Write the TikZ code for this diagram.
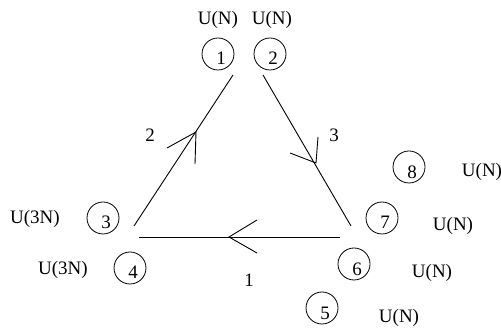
\documentclass[tikz,border=0pt]{standalone}
\usepackage{fontspec}
\setmainfont{Liberation Serif}
\begin{document}
\begin{tikzpicture}[x=1pt,y=-1pt,
  ring/.style={draw,circle,minimum size=32pt,inner sep=0pt,line width=0.8pt},
  num/.style={font=\fontsize{19}{19}\selectfont,inner sep=0pt},
  lab/.style={font=\fontsize{19}{19}\selectfont,inner sep=0pt},
  edge/.style={line width=0.9pt},
  chev/.style={line width=0.9pt}]
\useasboundingbox (0,0) rectangle (501,328);
% circles
\node[ring] (c1) at (218,54) {};
\node[ring] (c2) at (270,54) {};
\node[ring] (c3) at (103,218) {};
\node[ring] (c4) at (130,268) {};
\node[ring] (c5) at (322,308) {};
\node[ring] (c6) at (354,264) {};
\node[ring] (c7) at (382,218) {};
\node[ring] (c8) at (409,167) {};
% digits
\node[num] (d1) at (221,58) {1};
\node[num] (d2) at (273,58) {2};
\node[num] (d3) at (106,222) {3};
\node[num] (d4) at (133,272) {4};
\node[num] (d5) at (325,313) {5};
\node[num] (d6) at (357,269) {6};
\node[num] (d7) at (385,222) {7};
\node[num] (d8) at (412,172) {8};
% group labels
\node[lab] (l1) at (218,20) {U(N)};
\node[lab] (l2) at (272,20) {U(N)};
\node[lab] (l3) at (35,219) {U(3N)};
\node[lab] (l4) at (63,270) {U(3N)};
\node[lab] (l5) at (399,318) {U(N)};
\node[lab] (l6) at (432,273) {U(N)};
\node[lab] (l7) at (453,226) {U(N)};
\node[lab] (l8) at (482,172) {U(N)};
% edge labels
\node[lab] (e2) at (150,135) {2};
\node[lab] (e3) at (334,135) {3};
\node[lab] (e1) at (249,280) {1};
% triangle edges
\coordinate (lb) at (134,226);
\coordinate (lt) at (233,75);
\coordinate (rt) at (263,75);
\coordinate (rb) at (351,226);
\coordinate (bl) at (139,237);
\coordinate (br) at (340,237);
\draw[edge] (lb) -- (lt);
\draw[edge] (rt) -- (rb);
\draw[edge] (br) -- (bl);
% open arrowheads
\coordinate (ta) at (196,132);
\coordinate (tb) at (316,163);
\coordinate (tc) at (229,237);
\draw[chev] (167,148) -- (ta) -- (195,164);
\draw[chev] (290,153) -- (tb) -- (318,137);
\draw[chev] (257,220) -- (tc) -- (257,253);
\end{tikzpicture}
\end{document}
